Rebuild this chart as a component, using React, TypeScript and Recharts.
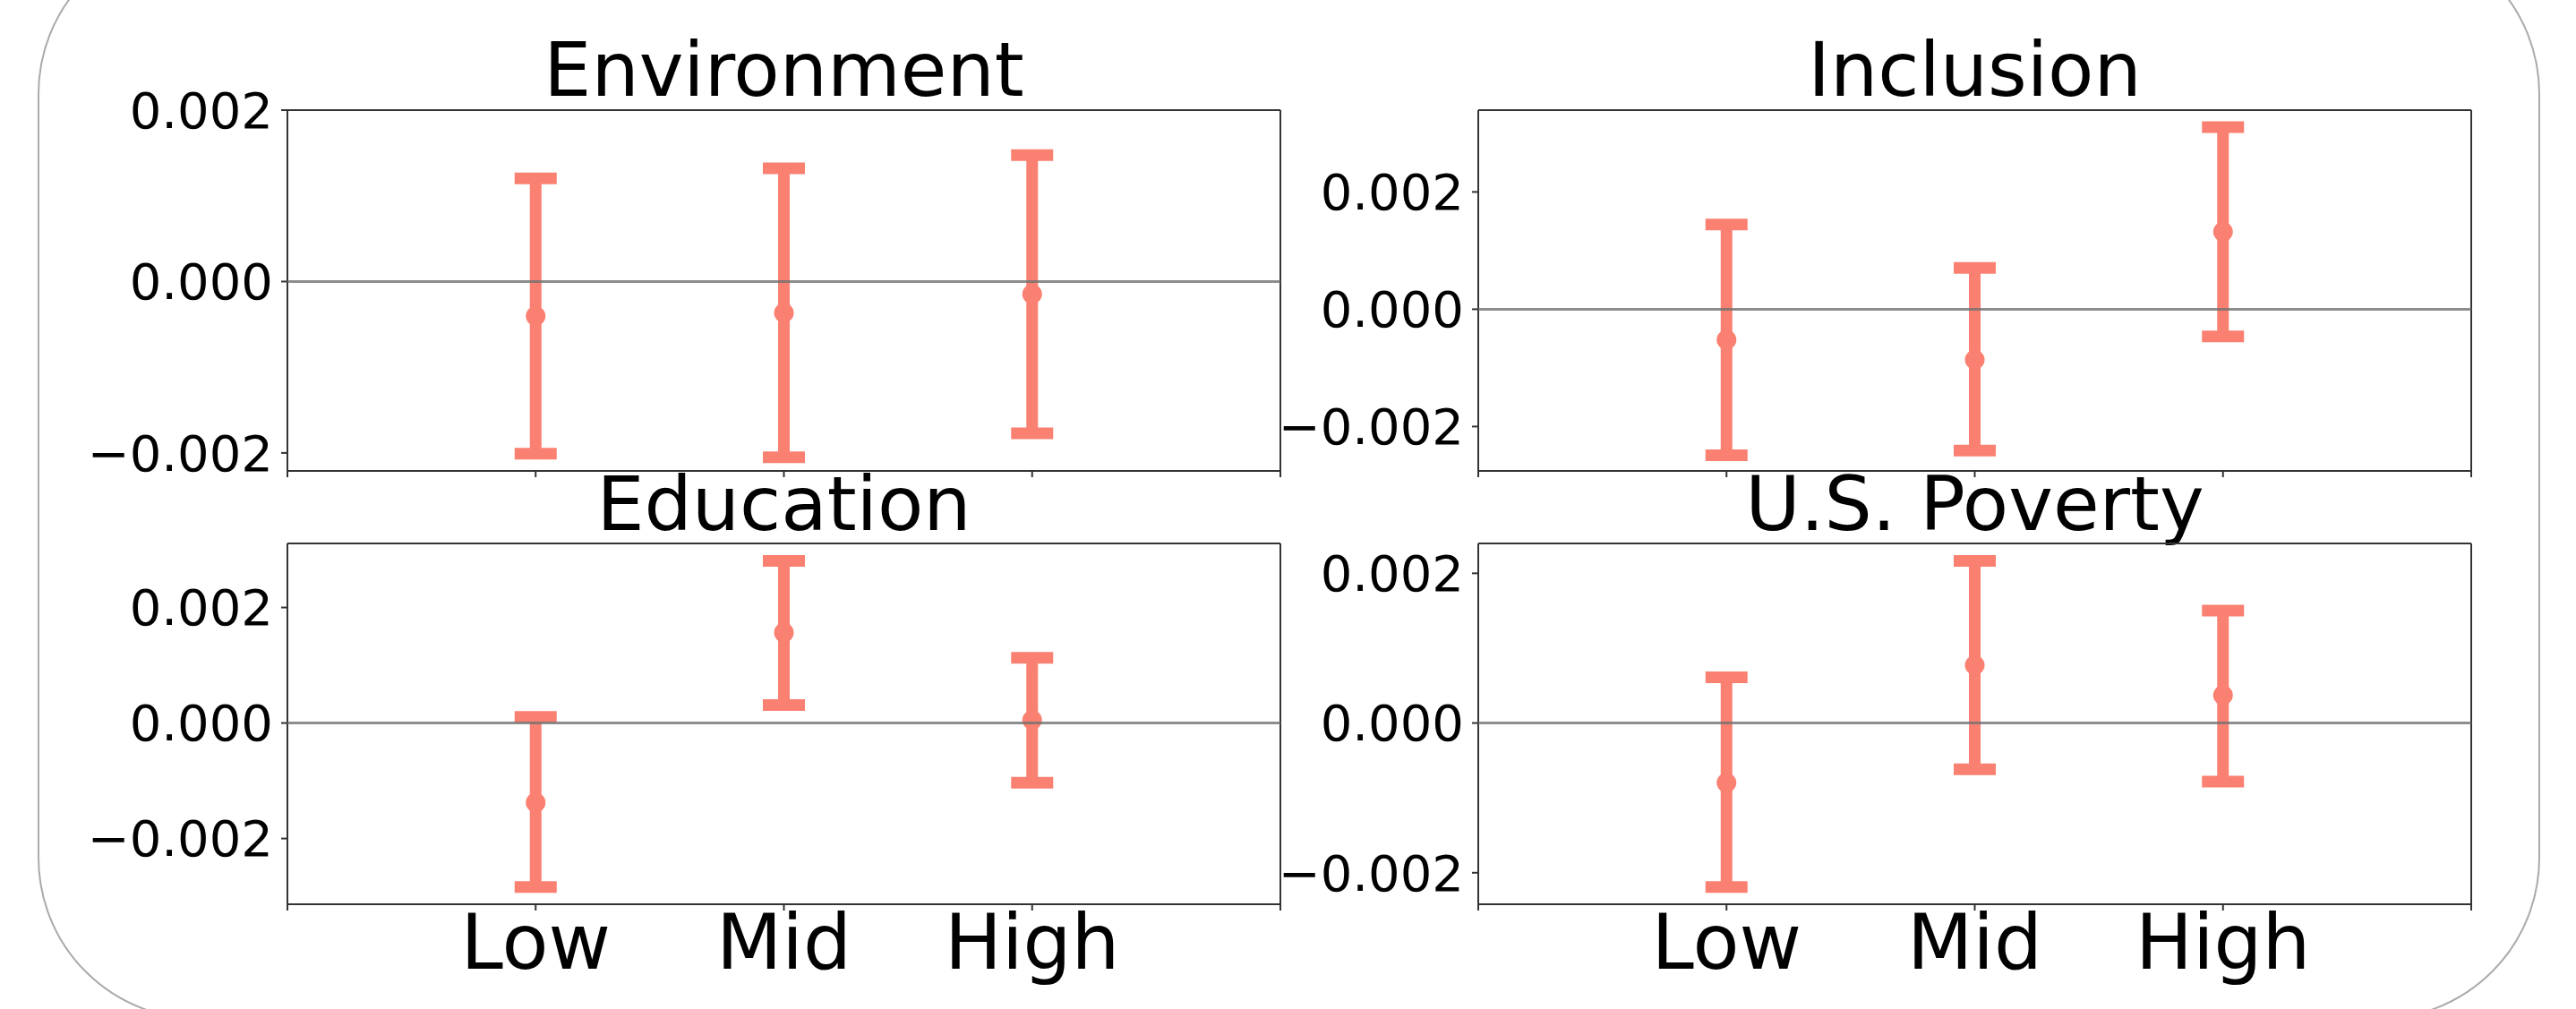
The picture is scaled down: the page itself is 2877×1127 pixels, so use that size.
import React from 'react';
import { ComposedChart, Scatter, ErrorBar, XAxis, YAxis, ReferenceLine } from 'recharts';

// categories and axis ticks
const CATEGORIES = ['Low', 'Mid', 'High'];
const X_TICKS = [0, 1, 2, 3, 4];
const Y_TICKS = [-0.002, 0, 0.002];

// Environment
const ENV_MEAN = [-0.000403, -0.000366, -0.000147];
const ENV_LOW = [-0.00201, -0.00205, -0.00177];
const ENV_HIGH = [0.001204, 0.00132, 0.001476];
const ENV_RANGE = [-0.00221, 0.002];

// Inclusion
const INC_MEAN = [-0.000522, -0.000861, 0.001321];
const INC_LOW = [-0.00249, -0.00241, -0.000463];
const INC_HIGH = [0.001446, 0.000704, 0.003104];
const INC_RANGE = [-0.002757, 0.003395];

// Education
const EDU_MEAN = [-0.001377, 0.001565, 0.00005];
const EDU_LOW = [-0.00284, 0.000312, -0.001035];
const EDU_HIGH = [0.000105, 0.002807, 0.001129];
const EDU_RANGE = [-0.003138, 0.003109];

// U.S. Poverty
const POV_MEAN = [-0.000798, 0.000772, 0.000371];
const POV_LOW = [-0.002192, -0.000617, -0.000782];
const POV_HIGH = [0.000612, 0.002166, 0.001501];
const POV_RANGE = [-0.002421, 0.002399];

const SALMON = '#fa8072';
const FRAME = '#333';
const FONT = '"DejaVu Sans", sans-serif';

const PLOT_W = 1109;
const PLOT_H = 403;
const Y_W = 300;
const M_TOP = 40;

const fmt = (v: number) => (v < 0 ? '\u2212' + Math.abs(v).toFixed(3) : v.toFixed(3));

function rows(mean: number[], low: number[], high: number[]) {
  // error = distance from the mean down to low / up to high
  return mean.map((m, i) => ({ x: i + 1, mean: m, err: [m - low[i], high[i] - m] }));
}

const Dot = (p: any) => <circle cx={p.cx} cy={p.cy} r={11} fill={SALMON} />;

interface PanelProps {
  mean: number[];
  low: number[];
  high: number[];
  range: number[];
  left: number;
  top: number;
  labels: boolean;
}

function Panel({ mean, low, high, range, left, top, labels }: PanelProps) {
  const xh = labels ? 110 : 20;
  return (
    <div style={{ position: 'absolute', left: left - Y_W, top: top - M_TOP }}>
      <ComposedChart
        width={Y_W + PLOT_W + 20}
        height={M_TOP + PLOT_H + xh}
        data={rows(mean, low, high)}
        margin={{ top: M_TOP, right: 20, left: 0, bottom: 0 }}
      >
        <XAxis
          type="number"
          dataKey="x"
          domain={[0, 4]}
          ticks={X_TICKS}
          interval={0}
          allowDataOverflow
          height={xh}
          tickSize={7}
          tickMargin={5}
          tickFormatter={(v: number) => (labels ? CATEGORIES[v - 1] ?? '' : '')}
          tick={{ fontSize: 85, fill: '#000', fontFamily: FONT }}
          axisLine={{ stroke: FRAME, strokeWidth: 2 }}
          tickLine={{ stroke: FRAME, strokeWidth: 2 }}
        />
        <YAxis
          type="number"
          dataKey="mean"
          domain={range}
          ticks={Y_TICKS}
          interval={0}
          allowDataOverflow
          width={Y_W}
          tickSize={7}
          tickMargin={9}
          tickFormatter={fmt}
          tick={{ fontSize: 56, fill: '#000', fontFamily: FONT }}
          axisLine={{ stroke: FRAME, strokeWidth: 2 }}
          tickLine={{ stroke: FRAME, strokeWidth: 2 }}
        />
        <Scatter dataKey="mean" shape={Dot} isAnimationActive={false}>
          <ErrorBar
            dataKey="err"
            direction="y"
            width={23.5}
            strokeWidth={13}
            stroke={SALMON}
            isAnimationActive={false}
          />
        </Scatter>
        <ReferenceLine y={0} stroke="#707070" strokeOpacity={0.8} strokeWidth={3} zIndex={700} />
        <ReferenceLine y={range[1]} stroke={FRAME} strokeWidth={2} />
        <ReferenceLine x={4} stroke={FRAME} strokeWidth={2} />
      </ComposedChart>
    </div>
  );
}

export default function App() {
  const titleStyle = { fontSize: 84, fontFamily: FONT, fill: '#000' };
  return (
    <div style={{ position: 'absolute', left: 0, top: 0, width: 2877, height: 1127, background: '#fff', overflow: 'hidden' }}>
      <svg width={2877} height={1127} style={{ position: 'absolute', left: 0, top: 0 }}>
        <rect x={43} y={-75} width={2793} height={1213} rx={180} ry={180} fill="none" stroke="#aaa" strokeWidth={2} />
        <text x={875.5} y={107} textAnchor="middle" style={titleStyle}>Environment</text>
        <text x={2205.5} y={107} textAnchor="middle" style={titleStyle}>Inclusion</text>
        <text x={875.5} y={592} textAnchor="middle" style={titleStyle}>Education</text>
        <text x={2205.5} y={592} textAnchor="middle" style={titleStyle}>U.S. Poverty</text>
      </svg>
      <Panel mean={ENV_MEAN} low={ENV_LOW} high={ENV_HIGH} range={ENV_RANGE} left={321} top={123} labels={false} />
      <Panel mean={INC_MEAN} low={INC_LOW} high={INC_HIGH} range={INC_RANGE} left={1651} top={123} labels={false} />
      <Panel mean={EDU_MEAN} low={EDU_LOW} high={EDU_HIGH} range={EDU_RANGE} left={321} top={607} labels={true} />
      <Panel mean={POV_MEAN} low={POV_LOW} high={POV_HIGH} range={POV_RANGE} left={1651} top={607} labels={true} />
    </div>
  );
}
